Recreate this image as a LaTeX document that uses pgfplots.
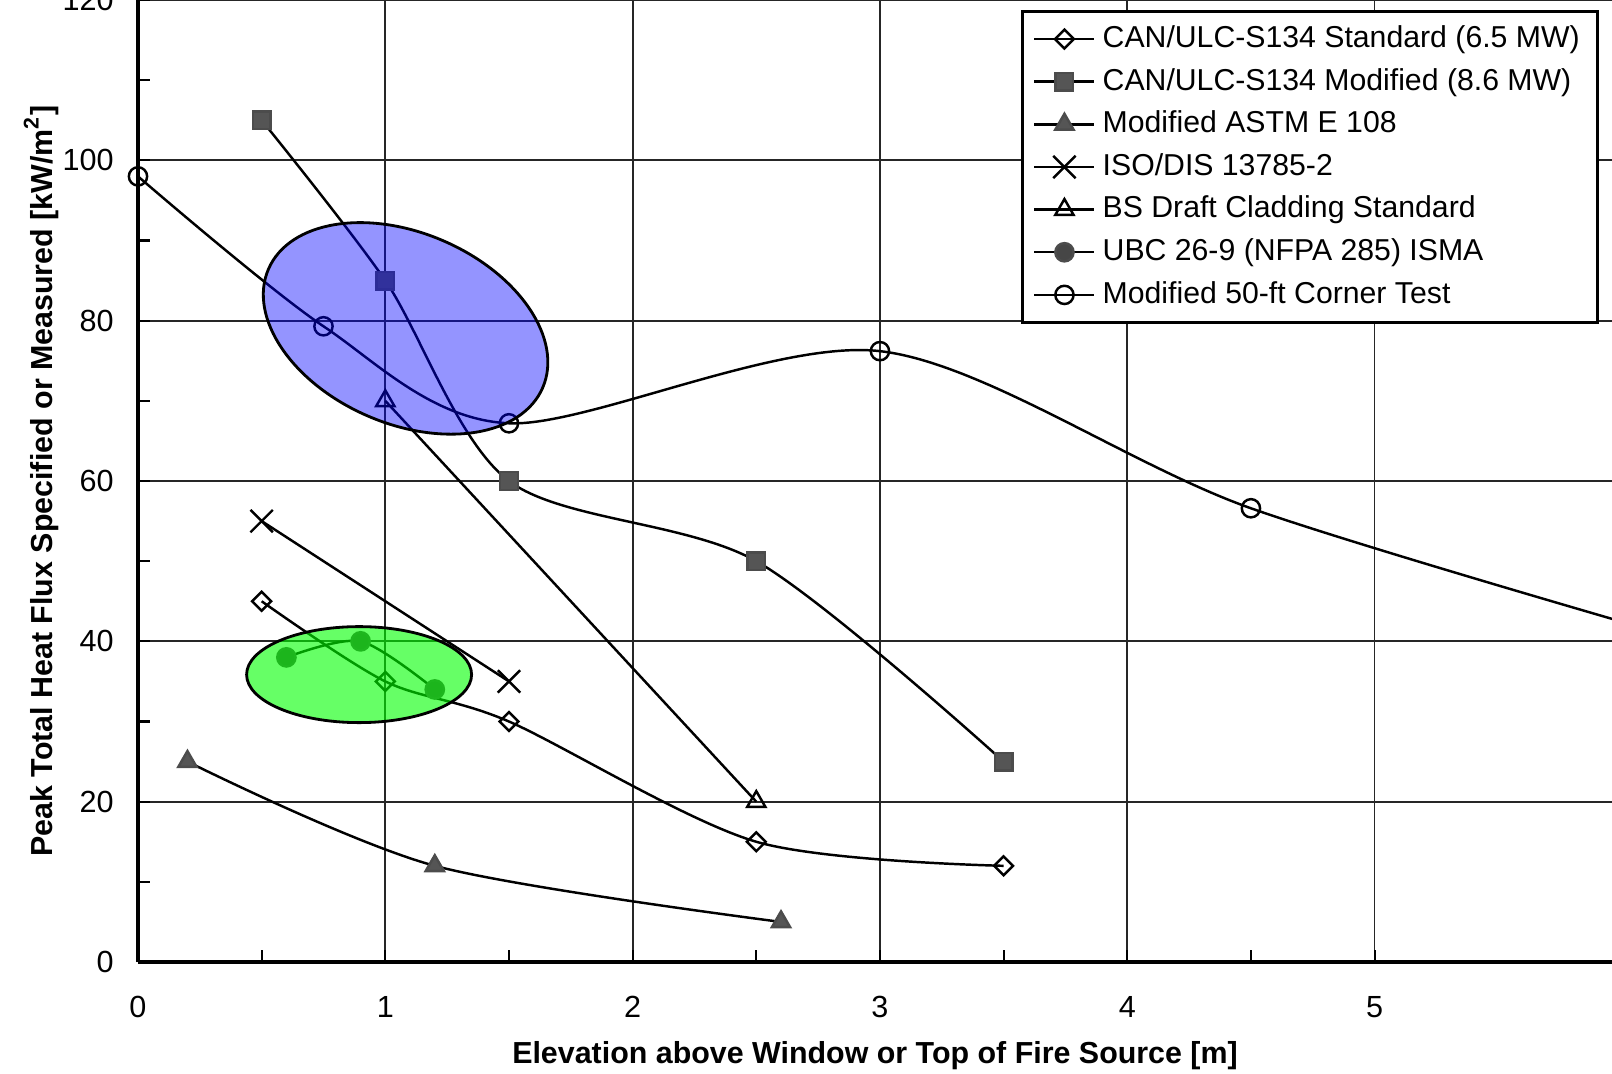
\documentclass[border=0pt]{standalone}
\usepackage{fontspec}
\setmainfont{Liberation Sans}
\usepackage{pgfplots}
\pgfplotsset{compat=1.18}
\definecolor{mkgray}{RGB}{85,85,85}
\definecolor{mkdark}{RGB}{70,70,70}
\begin{document}
\begin{tikzpicture}
\begin{axis}[
  name=ax,
  at={(0,0)}, anchor=south west,
  scale only axis, width=14.74cm, height=9.62cm,
  xmin=0, xmax=5.96, ymin=0, ymax=120,
  axis x line*=bottom, axis y line*=left,
  axis line style={-, line width=0.9pt},
  xtick={0,1,2,3,4,5}, ytick={0,20,40,60,80,100,120},
  minor x tick num=1, minor y tick num=1,
  tick align=inside,
  major tick length=0.12cm, minor tick length=0.12cm,
  grid=major, major grid style={black!85, line width=0.5pt},
  tick style={black, line width=0.6pt},
  /pgf/number format/assume math mode=true,
  ticklabel style={font=\fontsize{8.7}{10}\selectfont},
  xticklabel style={yshift=-0.22cm},
  yticklabel style={xshift=-0.12cm},
  xlabel={Elevation above Window or Top of Fire Source [m]},
  ylabel={Peak Total Heat Flux Specified or Measured [kW/m\textsuperscript{2}]},
  label style={font=\fontsize{8.65}{10}\selectfont\bfseries},
  xlabel style={at={(axis description cs:0.5,-0.0977)}, anchor=center},
  ylabel style={at={(axis description cs:-0.0658,0.5)}, anchor=center},
  legend style={at={(0.991,0.9896)}, anchor=north east, draw=black, line width=0.8pt,
    font=\fontsize{8.6}{10}\selectfont, row sep=0.4pt, inner xsep=3pt, inner ysep=2pt},
  legend cell align=left,
  every axis plot/.append style={line width=0.7pt, black},
]
\addplot[smooth, mark=square, mark size=1.9pt, mark options={fill=white, solid, rotate=45}]
  coordinates {(0.5,45) (1.0,35) (1.5,30) (2.5,15) (3.5,12)};
\addlegendentry{CAN/ULC-S134 Standard (6.5 MW)}
\addplot[smooth, mark=square*, mark size=2.5pt, mark options={fill=mkgray, draw=black!70}]
  coordinates {(0.5,105) (1.0,85) (1.5,60) (2.5,50) (3.5,25)};
\addlegendentry{CAN/ULC-S134 Modified (8.6 MW)}
\addplot[smooth, mark=triangle*, mark size=3pt, mark options={fill=mkgray, draw=black!70}]
  coordinates {(0.2,25) (1.2,12) (2.6,5)};
\addlegendentry{Modified ASTM E 108}
\addplot[mark=x, mark size=4.5pt]
  coordinates {(0.5,55) (1.5,35)};
\addlegendentry{ISO/DIS 13785-2}
\addplot[mark=triangle, mark size=3pt, mark options={fill=white}]
  coordinates {(1.0,70) (2.5,20)};
\addlegendentry{BS Draft Cladding Standard}
\addplot[smooth, mark=*, mark size=2.6pt, mark options={fill=mkdark, draw=black!70}]
  coordinates {(0.6,38) (0.9,40) (1.2,34)};
\addlegendentry{UBC 26-9 (NFPA 285) ISMA}
\addplot[smooth, mark=o, mark size=2.6pt, mark options={fill=white}]
  coordinates {(0,98) (0.75,79.3) (1.5,67.2) (3.0,76.2) (4.5,56.6) (6.5,38)};
\addlegendentry{Modified 50-ft Corner Test}
\coordinate (bc) at (axis cs:1.082,79.04);
\coordinate (gc) at (axis cs:0.894,35.85);
\end{axis}
\draw[fill=blue, fill opacity=0.42, draw=black, line width=0.8pt, rotate around={-23.4:(bc)}]
  (bc) ellipse [x radius=1.494cm, y radius=0.954cm];
\draw[fill=green, fill opacity=0.6, draw=black, line width=0.8pt]
  (gc) ellipse [x radius=1.125cm, y radius=0.48cm];
\pgfresetboundingbox
\path[use as bounding box] ([shift={(-1.38cm,-1.11cm)}]ax.south west) rectangle (ax.north east);
\end{tikzpicture}
\end{document}
